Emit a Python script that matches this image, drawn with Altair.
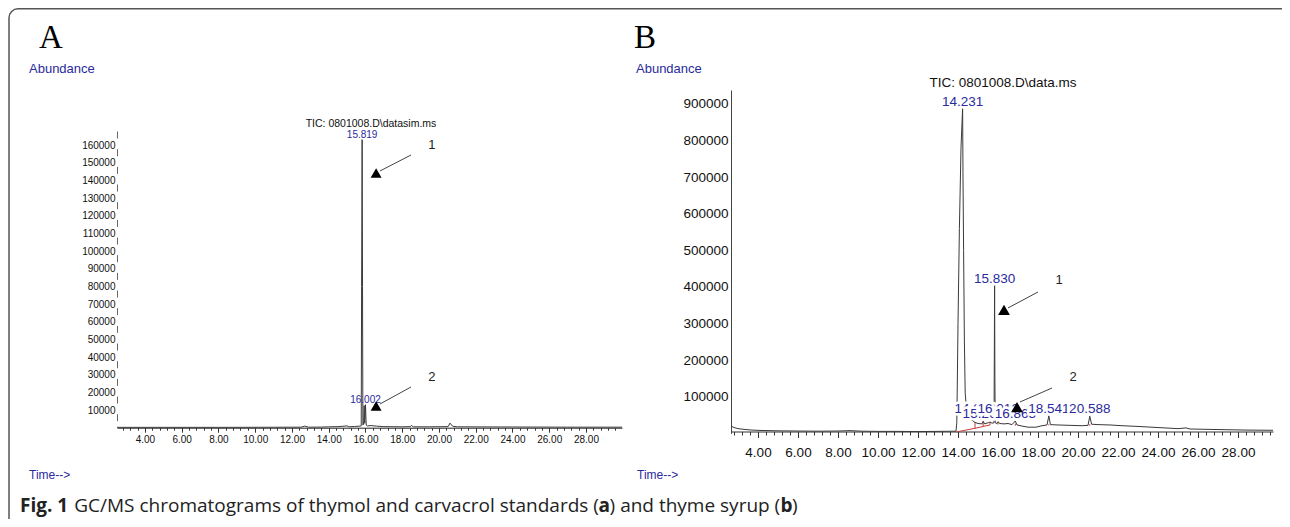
import altair as alt
import pandas as pd

W, H = 1274, 511
BLUE = "#2a2a9c"
TRACE = "#3a3a3a"
RED = "#c83c3c"
SANS = "Liberation Sans"

# ---------------- data: panel A (standards, SIM) ----------------
a_time = [2.48, 5.0, 8.0, 11.0, 12.5, 12.7, 12.9, 13.6, 14.0, 14.5,
          15.0, 15.1, 15.4, 15.6, 15.77, 15.79, 15.819, 15.84, 15.86, 15.9,
          15.93, 15.96, 16.002, 16.04, 16.1, 16.3, 16.6, 17.0, 18.0, 18.45,
          18.5, 18.6, 19.5, 20.5, 20.6, 20.75, 21.0, 24.0, 27.0, 29.96]
a_abund = [200, 200, 200, 250, 300, 900, 300, 350, 500, 600,
           1000, 500, 700, 800, 1000, 80000, 163000, 80000, 1500, 2000,
           12500, 2500, 13000, 1500, 1000, 1200, 900, 600, 500, 600,
           1300, 500, 500, 600, 2600, 800, 500, 400, 300, 300]
a_peak_time = [15.819, 16.002]
a_peak_abund = [163000, 13000]
a_peak_label = ["15.819", "16.002"]

# ---------------- data: panel B (thyme syrup, TIC) ----------------
b_time = [2.65, 2.8, 3.0, 3.3, 3.7, 4.2, 5.0, 6.0, 7.0, 8.0,
          8.6, 9.2, 10.0, 11.0, 12.0, 13.0, 13.9, 13.94, 13.96, 14.0,
          14.07, 14.15, 14.231, 14.25, 14.28, 14.32, 14.36, 14.42, 14.5, 14.65,
          14.85, 15.0, 15.2, 15.263, 15.33, 15.5, 15.6, 15.7, 15.8, 15.815,
          15.83, 15.845, 15.86, 15.95, 16.012, 16.08, 16.3, 16.5, 16.7, 16.865,
          16.95, 17.2, 17.5, 17.9, 18.2, 18.45, 18.541, 18.62, 19.0, 19.6,
          20.2, 20.5, 20.588, 20.68, 21.0, 21.6, 22.2, 23.0, 24.0, 25.0,
          25.4, 25.6, 26.5, 27.5, 28.5, 29.75]
b_abund = [20000, 16000, 13000, 11000, 9000, 8000, 7000, 6500, 6000, 6500,
           7500, 6000, 5500, 5500, 5000, 5500, 6000, 30000, 110000, 300000,
           560000, 780000, 890000, 700000, 500000, 250000, 110000, 70000, 50000, 38000,
           30000, 27000, 26000, 33000, 26000, 29000, 31000, 28000, 29000, 200000,
           404000, 150000, 29000, 27000, 32000, 27000, 26000, 27000, 24000, 34000,
           23000, 20000, 17000, 17000, 21000, 23000, 48000, 24000, 23000, 22000,
           21000, 22000, 47000, 25000, 24000, 23000, 21000, 19000, 16000, 13000,
           15000, 12000, 11000, 10000, 9000, 8500]
b_peak_time = [14.231, 15.830, 14.852, 15.263, 16.012, 16.865, 18.541, 20.588]
b_peak_abund = [890000, 404000, 50000, 36000, 50000, 36000, 50000, 50000]
b_peak_label = ["14.231", "15.830", "14.852", "15.263", "16.012", "16.865", "18.541", "20.588"]

# integration baseline marks (red) in panel B
b_int_t1 = [13.93, 14.85, 15.26, 14.85, 15.26, 15.6, 16.0, 16.865, 18.541, 20.588]
b_int_a1 = [4000, 14000, 19000, 14000, 19000, 23000, 24000, 21000, 22000, 21000]
b_int_t2 = [14.85, 15.26, 15.6, 14.85, 15.26, 15.6, 16.0, 16.865, 18.541, 20.588]
b_int_a2 = [14000, 19000, 23000, 30000, 33000, 31000, 31000, 27000, 25000, 25000]

major_ticks = [4, 6, 8, 10, 12, 14, 16, 18, 20, 22, 24, 26, 28]
minor_ticks = [round(2.8 + 0.4 * i, 1) for i in range(68)]
a_y_ticks = [10000 * i for i in range(1, 17)]
b_y_ticks = [100000 * i for i in range(1, 10)]

# annotation arrows (data units of each panel)
a_num_t = [19.62, 19.62]
a_num_a = [160000, 28700]
a_num_txt = ["1", "2"]
a_arr_t1 = [18.48, 18.48]
a_arr_a1 = [154350, 23040]
a_arr_t2 = [16.79, 16.79]
a_arr_a2 = [145300, 13410]
a_tri_t = [16.58, 16.58]
a_tri_a = [144150, 12280]

b_num_t = [19.05, 19.75]
b_num_a = [419100, 154100]
b_num_txt = ["1", "2"]
b_arr_t1 = [18.0, 18.7]
b_arr_a1 = [386300, 124000]
b_arr_t2 = [16.5, 17.1]
b_arr_a2 = [342600, 85800]
b_tri_t = [16.3, 16.95]
b_tri_a = [337100, 72100]

# ---------------- scales / axes ----------------
def sc(domain, rng):
    return alt.Scale(domain=domain, range=rng, nice=False, zero=False)

A_XS = ([2.48, 29.96], [109, 614])
A_YS = ([0, 168500], [419.7, 122])
B_XS = ([2.65, 29.75], [723, 1265])
B_YS = ([0, 938000], [425.4, 82])

axA_x = alt.Axis(orient="bottom", offset=419.7 - H, values=major_ticks, format=".2f",
                 labelFont=SANS, labelFontSize=10, labelColor="#111", labelPadding=2,
                 labelOverlap=False, tickSize=4.5, tickColor="#333", domainColor="#222",
                 domainWidth=1, grid=False, title=None)
axA_y = alt.Axis(orient="left", offset=-109, values=a_y_ticks, format="d",
                 labelFont=SANS, labelFontSize=10, labelColor="#111", labelPadding=2,
                 labelOverlap=False, ticks=False, domainColor="#666", domainWidth=1,
                 domainDash=[7, 10.667], domainDashOffset=10.667, grid=False, title=None)
axB_x = alt.Axis(orient="bottom", offset=423.5 - H, values=major_ticks, format=".2f",
                 labelFont=SANS, labelFontSize=13.5, labelColor="#111", labelPadding=8,
                 labelOverlap=False, tickSize=6, tickColor="#333", domainColor="#333",
                 domainWidth=1, grid=False, title=None)
axB_y = alt.Axis(orient="left", offset=-723, values=b_y_ticks, format="d",
                 labelFont=SANS, labelFontSize=13.5, labelColor="#111", labelPadding=3,
                 labelOverlap=False, ticks=False, domainColor="#444", domainWidth=1,
                 grid=False, title=None)


def XA(field="time"):
    return alt.X(f"{field}:Q", scale=sc(*A_XS), axis=axA_x)


def YA(field="abund"):
    return alt.Y(f"{field}:Q", scale=sc(*A_YS), axis=axA_y)


def XB(field="time"):
    return alt.X(f"{field}:Q", scale=sc(*B_XS), axis=axB_x)


def YB(field="abund"):
    return alt.Y(f"{field}:Q", scale=sc(*B_YS), axis=axB_y)


# ---------------- panel A ----------------
dfA = pd.DataFrame({"time": a_time, "abund": a_abund})
dfA_lab = pd.DataFrame({"time": a_peak_time, "abund": a_peak_abund, "label": a_peak_label})
dfA_num = pd.DataFrame({"time": a_num_t, "abund": a_num_a, "label": a_num_txt})
dfA_arr = pd.DataFrame({"time": a_arr_t1, "abund": a_arr_a1, "time2": a_arr_t2, "abund2": a_arr_a2})
dfA_tri = pd.DataFrame({"time": a_tri_t, "abund": a_tri_a})

panelA = alt.layer(
    alt.Chart(dfA).mark_line(color=TRACE, strokeWidth=1).encode(x=XA(), y=YA()),
    alt.Chart(dfA_lab).mark_text(font=SANS, fontSize=10, color=BLUE, baseline="alphabetic", dy=-2)
    .encode(x=XA(), y=YA(), text="label:N"),
    alt.Chart(dfA_arr).mark_rule(color="#444", strokeWidth=1)
    .encode(x=XA(), y=YA(), x2="time2:Q", y2="abund2:Q"),
    alt.Chart(dfA_tri).mark_point(shape="triangle-up", filled=True, size=120, color="#000", opacity=1)
    .encode(x=XA(), y=YA()),
    alt.Chart(dfA_num).mark_text(font=SANS, fontSize=13, color="#222", baseline="middle")
    .encode(x=XA(), y=YA(), text="label:N"),
)

minorA = alt.Chart(dfA).mark_point(opacity=0).encode(
    x=alt.X("time:Q", scale=sc(*A_XS),
            axis=alt.Axis(orient="bottom", offset=419.7 - H, values=minor_ticks, labels=False,
                          domain=False, tickSize=2.5, tickColor="#333", grid=False, title=None)),
    y=alt.Y("abund:Q", scale=sc(*A_YS), axis=None),
)

# ---------------- panel B ----------------
dfB = pd.DataFrame({"time": b_time, "abund": b_abund})
dfB_lab = pd.DataFrame({"time": b_peak_time, "abund": b_peak_abund, "label": b_peak_label})
dfB_int = pd.DataFrame({"time": b_int_t1, "abund": b_int_a1, "time2": b_int_t2, "abund2": b_int_a2})
dfB_num = pd.DataFrame({"time": b_num_t, "abund": b_num_a, "label": b_num_txt})
dfB_arr = pd.DataFrame({"time": b_arr_t1, "abund": b_arr_a1, "time2": b_arr_t2, "abund2": b_arr_a2})
dfB_tri = pd.DataFrame({"time": b_tri_t, "abund": b_tri_a})

b_layers = [
    alt.Chart(dfB_int).mark_rule(color=RED, strokeWidth=1)
    .encode(x=XB(), y=YB(), x2="time2:Q", y2="abund2:Q"),
    alt.Chart(dfB).mark_line(color=TRACE, strokeWidth=1).encode(x=XB(), y=YB()),
]
# peak labels drawn one after another; each later label masks the earlier one (white halo)
dfB_lab_sorted = dfB_lab.sort_values("time").reset_index(drop=True)
for i in range(len(dfB_lab_sorted)):
    row = dfB_lab_sorted.iloc[[i]]
    b_layers.append(
        alt.Chart(row).mark_text(font=SANS, fontSize=13.5, color="white", fill="white", stroke="white",
                                 strokeWidth=5, baseline="alphabetic", dy=-2)
        .encode(x=XB(), y=YB(), text="label:N"))
    b_layers.append(
        alt.Chart(row).mark_text(font=SANS, fontSize=13.5, color=BLUE, baseline="alphabetic", dy=-2)
        .encode(x=XB(), y=YB(), text="label:N"))
b_layers += [
    alt.Chart(dfB_arr).mark_rule(color="#444", strokeWidth=1)
    .encode(x=XB(), y=YB(), x2="time2:Q", y2="abund2:Q"),
    alt.Chart(dfB_tri).mark_point(shape="triangle-up", filled=True, size=140, color="#000", opacity=1)
    .encode(x=XB(), y=YB()),
    alt.Chart(dfB_num).mark_text(font=SANS, fontSize=13, color="#222", baseline="middle")
    .encode(x=XB(), y=YB(), text="label:N"),
]
panelB = alt.layer(*b_layers)

minorB = alt.Chart(dfB).mark_point(opacity=0).encode(
    x=alt.X("time:Q", scale=sc(*B_XS),
            axis=alt.Axis(orient="bottom", offset=423.5 - H, values=minor_ticks, labels=False,
                          domain=False, tickSize=3.5, tickColor="#333", grid=False, title=None)),
    y=alt.Y("abund:Q", scale=sc(*B_YS), axis=None),
)

# ---------------- static texts ----------------
one = pd.DataFrame({"k": [0]})


def txt(s, x, y, size, color="#000", font=SANS, weight="normal", align="left", baseline="alphabetic"):
    return alt.Chart(one).mark_text(text=s, font=font, fontSize=size, color=color, fontWeight=weight,
                                    align=align, baseline=baseline).encode(x=alt.value(x), y=alt.value(y))


frame = alt.Chart(one).mark_rect(fill="#ffffff", fillOpacity=0, stroke="#555", strokeWidth=1.5,
                                 cornerRadius=9).encode(
    x=alt.value(1), x2=alt.value(1330), y=alt.value(0.8), y2=alt.value(560))

texts = [
    txt("A", 43, 40, 33, font="Liberation Serif", align="center"),
    txt("B", 637, 40, 33, font="Liberation Serif", align="center"),
    txt("Abundance", 21, 65, 13, BLUE),
    txt("Abundance", 628, 65, 13, BLUE),
    txt("Time-->", 21, 471, 12, BLUE),
    txt("Time-->", 629, 471, 12, BLUE),
    txt("TIC: 0801008.D\\datasim.ms", 363, 119, 10.5, "#111", align="center"),
    txt("TIC: 0801008.D\\data.ms", 995, 79, 13.5, "#111", align="center"),
]

# caption with bold parts, laid out left to right (text width in font units, then gap after it)
SPACE = 532
cap_size = 19
cap_parts = [("Fig. 1", "bold", 5317, SPACE),
             ("GC/MS chromatograms of thymol and carvacrol standards (", "normal", 57032 - SPACE, 0),
             ("a", "bold", 1206, 0), (") and thyme syrup (", "normal", 18406, 0),
             ("b", "bold", 1264, 0), (")", "normal", 608, 0)]
cx = 12.0
for s, wgt, units, gap in cap_parts:
    texts.append(txt(s, cx, 504, cap_size, "#222", font="Open Sans", weight=wgt))
    cx += (units + gap) * cap_size / 2048

chart = alt.layer(frame, panelA, minorA, panelB, minorB, *texts).resolve_scale(
    x="independent", y="independent"
).properties(
    width=W, height=H, autosize=alt.AutoSizeParams(type="none"), padding=0, background="white"
).configure_view(strokeWidth=0)

chart.save("out.html", embed_options={"renderer": "svg", "actions": False})
